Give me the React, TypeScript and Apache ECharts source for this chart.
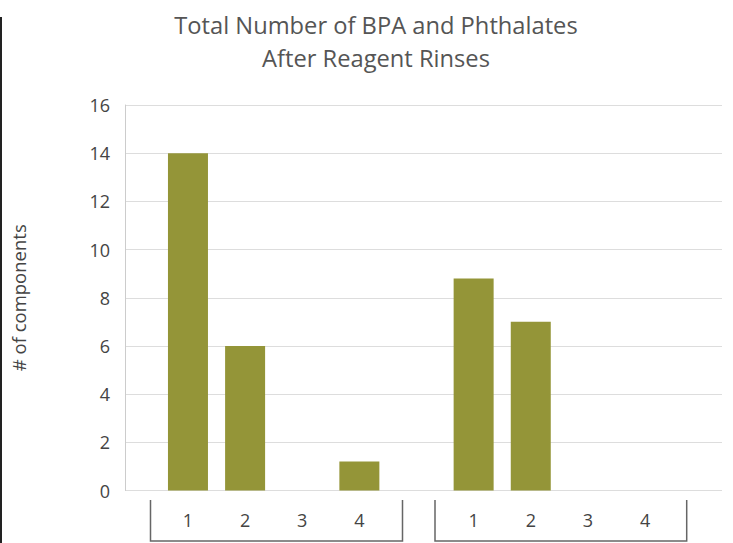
import React, { useEffect, useRef } from "react";
import * as echarts from "echarts";

const titleLines = ["Total Number of BPA and Phthalates", "After Reagent Rinses"];
const yAxisName = "# of components";
const categories = ["1", "2", "3", "4", "", "1", "2", "3", "4"];
const values = [14, 6, 0, 1.2, null, 8.8, 7, 0, 0];
const yMin = 0;
const yMax = 16;
const yInterval = 2;

const FONT = "'Open Sans', 'Noto Sans', sans-serif";
const BAR_COLOR = "#949538";

export default function App() {
  const ref = useRef<HTMLDivElement>(null);
  useEffect(() => {
    if (!ref.current) return;
    const chart = echarts.init(ref.current, null, { renderer: "svg" });
    const bracket = (x1: number, x2: number) => ({
      type: "polyline",
      shape: { points: [[x1, 500], [x1, 541], [x2, 541], [x2, 500]] },
      style: { stroke: "#666", lineWidth: 1.5, fill: "none" },
      silent: true,
    });
    chart.setOption({
      animation: false,
      backgroundColor: "#ffffff",
      title: {
        text: titleLines.join("\n"),
        left: 376,
        top: 8.5,
        padding: 0,
        textAlign: "center",
        textStyle: {
          fontFamily: FONT,
          fontSize: 23.7,
          fontWeight: "normal",
          color: "#555",
          lineHeight: 33,
        },
      },
      grid: [
        { left: 125, right: 11, top: 105, bottom: 52.5 },
        { left: 159.4, right: 59.4, top: 105, bottom: 52.5 },
      ],
      xAxis: [
        { type: "value", gridIndex: 0, show: false, min: 0, max: 1 },
        {
          type: "category",
          gridIndex: 1,
          data: categories,
          axisLine: { show: false },
          axisTick: { show: false },
          axisLabel: {
            margin: 20,
            fontFamily: FONT,
            fontSize: 18,
            color: "#444",
          },
        },
      ],
      yAxis: [
        {
          type: "value",
          gridIndex: 0,
          min: yMin,
          max: yMax,
          interval: yInterval,
          name: yAxisName,
          nameLocation: "middle",
          nameGap: 97,
          nameTextStyle: { fontFamily: FONT, fontSize: 18.5, color: "#444" },
          axisLine: { show: true, lineStyle: { color: "#ccc", width: 1 } },
          axisTick: { show: false },
          axisLabel: { margin: 15, fontFamily: FONT, fontSize: 18, color: "#444" },
          splitLine: { show: true, lineStyle: { color: "#ddd", width: 1 } },
        },
        {
          type: "value",
          gridIndex: 1,
          min: yMin,
          max: yMax,
          interval: yInterval,
          show: false,
          splitLine: { show: false },
        },
      ],
      series: [
        {
          type: "bar",
          xAxisIndex: 1,
          yAxisIndex: 1,
          data: values,
          barWidth: 40,
          itemStyle: { color: BAR_COLOR },
        },
      ],
      graphic: [
        {
          type: "line",
          shape: { x1: 1, y1: 17, x2: 1, y2: 543 },
          style: { stroke: "#222", lineWidth: 2 },
          silent: true,
        },
        bracket(150.5, 402.5),
        bracket(435, 686.7),
      ],
    });
    return () => chart.dispose();
  }, []);
  return <div ref={ref} style={{ width: 733, height: 543, position: "fixed", left: 0, top: 0 }} />;
}
